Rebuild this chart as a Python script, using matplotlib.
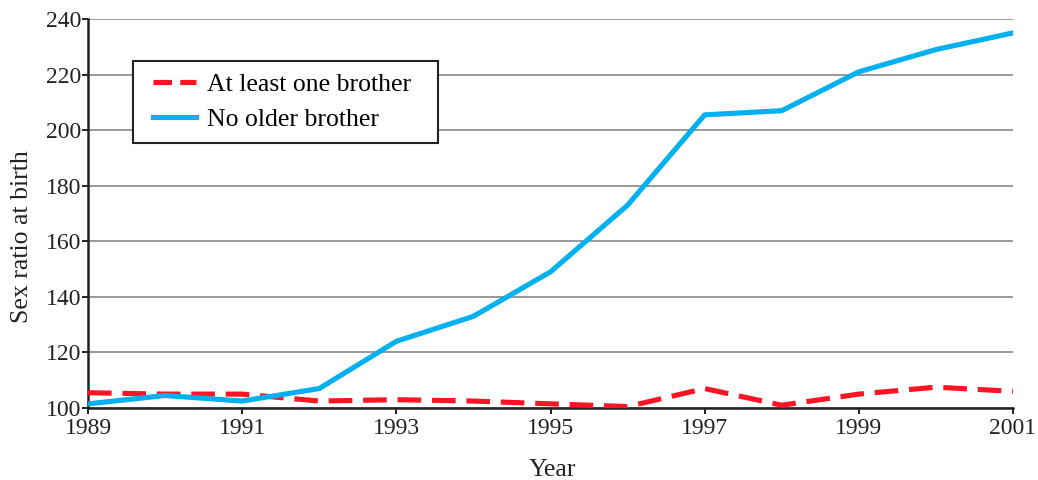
import matplotlib
matplotlib.use("Agg")
import matplotlib.pyplot as plt
from matplotlib.patches import Rectangle

years = [1989, 1990, 1991, 1992, 1993, 1994, 1995, 1996, 1997, 1998, 1999, 2000, 2001]
at_least_one_brother = [105.5, 105, 105, 102.5, 103, 102.5, 101.5, 100.5, 107, 101, 105, 107.5, 106]
no_older_brother = [101.5, 104.5, 102.5, 107, 124, 133, 149, 173, 205.5, 207, 221, 229, 235]
x_ticks = [1989, 1991, 1993, 1995, 1997, 1999, 2001]
y_ticks = [100, 120, 140, 160, 180, 200, 220, 240]

plt.rcParams['font.family'] = ['Liberation Serif', 'DejaVu Serif']

W, H = 1038, 480
fig = plt.figure(figsize=(W / 100, H / 100), dpi=100)
ax = fig.add_axes([88 / W, 1 - 408 / H, 925 / W, 389 / H])

ax.plot(years, at_least_one_brother, color='#ff1424', lw=3.7, dashes=(4.6, 2.1),
        label='At least one brother', zorder=3, dash_capstyle='butt')
ax.plot(years, no_older_brother, color='#00b0f0', lw=3.7,
        label='No older brother', zorder=3)

ax.set_xlim(1989, 2001)
ax.set_ylim(100, 240)
ax.set_xticks(x_ticks)
ax.set_yticks(y_ticks)
ax.grid(axis='y', color='#999999', lw=1.4)
ax.set_axisbelow(True)
for s in ['top', 'right']:
    ax.spines[s].set_visible(False)
for s in ['left', 'bottom']:
    ax.spines[s].set_linewidth(1.8)
    ax.spines[s].set_color('#222222')
ax.tick_params(axis='both', labelsize=17, length=4, width=1.4, colors='#222222')
ax.tick_params(axis='x', pad=3)
ax.tick_params(axis='y', pad=1)

fig.text(552 / W, 1 - 470 / H, 'Year', fontsize=18.5, color='#222222',
         ha='center', va='center')
fig.text(22 / W, 1 - 237 / H, 'Sex ratio at birth', fontsize=18.5, color='#222222',
         ha='center', va='center', rotation=90)

# legend frame
fig.add_artist(Rectangle((133 / W, 1 - 143 / H), 305 / W, 82 / H,
                         transform=fig.transFigure, facecolor='white',
                         edgecolor='#222222', lw=1.5, zorder=4))
handles, labels = ax.get_legend_handles_labels()
leg = fig.legend(handles, labels, loc='center left', bbox_to_anchor=(145 / W, 1 - 102 / H),
                 fontsize=18.5, frameon=False, handlelength=1.7, borderpad=0.3,
                 labelspacing=0.45, handletextpad=0.4, borderaxespad=0)
leg.set_zorder(5)
leg.get_lines()[0].set_dashes((3.6, 1.6))

fig.savefig('out.png', dpi=100)
